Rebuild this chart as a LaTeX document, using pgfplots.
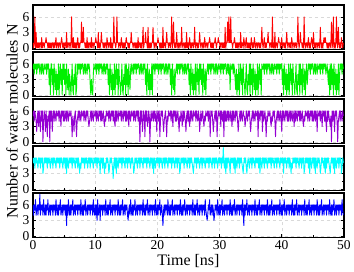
\documentclass[border=0pt]{standalone}
\usepackage{fontspec}
\setmainfont{Liberation Serif}
\usepackage{pgfplots}
\usepackage{pgfplotstable}
\pgfplotsset{compat=1.18}
\usepgfplotslibrary{groupplots}
\definecolor{pred}{RGB}{255,0,0}
\definecolor{pgreen}{RGB}{0,240,0}
\definecolor{ppurple}{RGB}{148,0,211}
\definecolor{pcyan}{RGB}{0,255,255}
\definecolor{pblue}{RGB}{0,0,255}
\pgfplotstableread{
t r g p c b
0.0 1 5 5 6 6
0.1 0 6 6 5 4
0.2 1 4 4 6 6
0.3 6 6 6 4 5
0.4 0 5 5 6 7
0.5 3 6 4 5 4
0.6 0 4 2 6 5
0.7 1 6 5 5 6
0.8 0 5 6 4 4
0.9 1 6 3 6 6
1.0 0 6 6 5 5
1.1 1 4 4 6 8
1.2 1 5 2 4 4
1.3 0 6 6 6 6
1.4 2 4 4 5 5
1.5 0 6 6 6 6
1.6 1 5 0 3 4
1.7 1 4 4 4 7
1.8 0 6 6 6 5
1.9 1 5 5 5 4
2.0 1 5 2 6 6
2.1 2 6 6 5 4
2.2 1 4 4 6 6
2.3 1 6 1 4 5
2.4 0 5 5 6 7
2.5 1 6 4 5 4
2.6 0 2 6 6 5
2.7 1 5 0 5 6
2.8 0 0 6 4 4
2.9 1 6 4 6 6
3.0 0 6 6 5 5
3.1 1 2 2 6 6
3.2 1 5 5 4 4
3.3 0 0 6 6 6
3.4 1 6 4 5 5
3.5 0 3 6 6 6
3.6 1 1 5 5 4
3.7 2 5 4 4 7
3.8 0 0 6 6 5
3.9 1 4 5 5 4
4.0 1 1 5 6 6
4.1 0 6 6 5 4
4.2 1 0 4 6 6
4.3 1 4 6 4 5
4.4 0 6 5 6 7
4.5 1 2 3 5 4
4.6 2 5 6 6 5
4.7 1 0 5 5 6
4.8 0 6 6 4 4
4.9 1 3 4 6 6
5.0 0 6 6 5 5
5.1 1 2 4 6 6
5.2 1 5 5 4 4
5.3 0 0 6 6 6
5.4 3 6 4 3 2
5.5 0 3 6 6 6
5.6 1 1 5 5 4
5.7 1 5 4 4 7
5.8 0 0 6 6 5
5.9 1 4 5 5 4
6.0 1 2 5 6 6
6.1 0 0 6 5 4
6.2 6 3 4 6 6
6.3 1 6 1 4 5
6.4 0 1 5 6 7
6.5 2 0 4 5 4
6.6 0 4 2 6 5
6.7 1 2 5 5 6
6.8 0 6 6 4 4
6.9 1 0 4 6 6
7.0 0 1 1 5 5
7.1 1 6 4 6 6
7.2 2 4 5 4 4
7.3 0 6 6 6 6
7.4 1 5 4 5 5
7.5 0 6 6 3 6
7.6 1 4 5 5 4
7.7 1 6 4 4 7
7.8 5 5 6 6 5
7.9 1 6 5 5 4
8.0 1 6 5 6 6
8.1 4 4 6 5 4
8.2 1 5 4 6 6
8.3 1 6 6 4 5
8.4 0 4 5 6 7
8.5 1 6 4 5 4
8.6 0 5 6 6 5
8.7 2 4 5 5 6
8.8 0 6 6 4 4
8.9 1 5 4 6 6
9.0 0 6 3 5 5
9.1 1 5 4 6 6
9.2 1 2 5 4 4
9.3 0 0 6 6 6
9.4 2 3 4 5 5
9.5 0 1 6 6 6
9.6 1 0 5 5 4
9.7 1 4 4 4 7
9.8 0 6 6 6 5
9.9 1 5 5 5 4
10.0 1 5 5 6 6
10.1 2 6 6 5 4
10.2 1 4 4 6 6
10.3 1 6 6 4 3
10.4 0 5 5 6 7
10.5 3 6 4 5 4
10.6 0 4 6 6 5
10.7 1 6 5 5 6
10.8 0 5 6 3 3
10.9 1 6 4 6 6
11.0 3 6 6 5 5
11.1 1 4 4 6 6
11.2 1 5 5 4 4
11.3 0 6 6 6 6
11.4 1 4 4 5 5
11.5 0 6 3 3 6
11.6 1 5 5 5 4
11.7 1 4 4 4 7
11.8 0 6 6 6 5
11.9 2 5 5 5 4
12.0 1 6 5 6 6
12.1 0 2 6 5 4
12.2 1 5 4 3 6
12.3 1 0 6 4 5
12.4 0 6 5 6 7
12.5 2 3 4 5 4
12.6 0 1 6 6 5
12.7 1 5 5 5 6
12.8 0 0 6 4 4
12.9 1 4 4 2 6
13.0 6 1 6 5 5
13.1 1 6 4 6 6
13.2 1 0 3 4 4
13.3 0 4 6 6 6
13.4 1 6 4 3 5
13.5 6 2 6 6 6
13.6 1 5 5 5 4
13.7 1 0 4 4 7
13.8 0 6 6 6 5
13.9 1 3 5 5 4
14.0 1 2 5 6 6
14.1 0 0 6 5 4
14.2 2 3 4 6 6
14.3 1 6 6 4 5
14.4 0 1 5 6 7
14.5 1 0 4 5 4
14.6 0 4 6 6 5
14.7 1 2 5 5 6
14.8 0 6 6 4 4
14.9 1 0 4 6 6
15.0 2 6 6 5 5
15.1 1 2 4 6 6
15.2 1 5 5 4 4
15.3 0 0 6 6 3
15.4 1 6 3 5 5
15.5 0 3 6 6 6
15.6 1 1 5 5 4
15.7 1 5 4 4 7
15.8 3 6 6 6 5
15.9 1 4 5 5 4
16.0 1 5 5 6 6
16.1 0 6 6 5 4
16.2 1 4 4 3 6
16.3 1 6 6 4 5
16.4 0 5 5 6 7
16.5 1 6 4 5 4
16.6 0 4 6 6 5
16.7 1 6 5 5 6
16.8 0 5 6 4 4
16.9 2 6 4 6 6
17.0 0 6 6 5 5
17.1 1 4 4 6 6
17.2 1 5 0 4 4
17.3 0 6 6 6 6
17.4 1 4 4 5 5
17.5 0 6 6 6 6
17.6 1 5 2 5 4
17.7 4 4 4 4 7
17.8 0 6 6 6 5
17.9 1 5 5 5 4
18.0 1 6 1 6 6
18.1 3 2 6 5 4
18.2 1 5 4 6 6
18.3 1 0 6 4 5
18.4 0 6 3 6 7
18.5 4 3 4 5 4
18.6 0 1 6 6 5
18.7 1 5 5 5 6
18.8 0 0 0 4 4
18.9 1 4 4 6 6
19.0 0 1 6 5 5
19.1 1 6 4 6 6
19.2 1 0 5 4 4
19.3 4 6 6 6 6
19.4 1 5 4 3 5
19.5 0 6 6 6 6
19.6 1 4 5 5 4
19.7 1 6 4 4 7
19.8 0 5 6 6 5
19.9 1 6 2 5 4
20.0 1 5 5 6 6
20.1 2 6 6 5 4
20.2 1 4 4 6 6
20.3 1 6 6 4 5
20.4 0 5 1 6 7
20.5 1 6 4 5 4
20.6 0 4 6 6 5
20.7 1 6 5 5 6
20.8 0 5 6 4 4
20.9 4 6 4 6 2
21.0 0 6 2 5 5
21.1 1 4 4 6 6
21.2 1 5 5 4 4
21.3 0 6 6 6 6
21.4 1 4 4 5 5
21.5 3 6 1 6 6
21.6 1 5 5 5 4
21.7 1 4 4 4 7
21.8 0 6 6 6 5
21.9 1 5 5 5 4
22.0 1 6 5 6 6
22.1 0 2 6 5 4
22.2 1 5 4 6 6
22.3 6 0 6 4 5
22.4 0 6 5 6 7
22.5 1 3 3 5 4
22.6 5 1 6 6 5
22.7 1 5 5 5 6
22.8 0 0 6 4 4
22.9 1 4 4 6 6
23.0 0 5 6 5 5
23.1 3 6 4 6 6
23.2 1 4 5 4 4
23.3 0 6 6 6 6
23.4 1 5 4 5 5
23.5 0 6 2 6 6
23.6 1 4 5 3 4
23.7 1 6 4 4 7
23.8 0 5 6 6 5
23.9 4 6 5 5 4
24.0 1 6 3 6 6
24.1 0 4 6 5 4
24.2 1 5 4 6 6
24.3 1 6 6 4 5
24.4 0 4 5 6 7
24.5 1 6 4 5 4
24.6 0 5 2 6 5
24.7 3 4 5 5 6
24.8 0 6 6 4 4
24.9 1 5 4 6 6
25.0 0 6 6 5 5
25.1 1 2 4 6 6
25.2 2 5 3 4 4
25.3 0 0 6 6 6
25.4 1 6 4 5 5
25.5 0 3 6 6 6
25.6 1 1 5 5 4
25.7 1 5 4 4 7
25.8 0 0 6 3 5
25.9 1 4 5 5 4
26.0 4 1 5 6 6
26.1 0 6 6 5 4
26.2 1 0 4 6 6
26.3 1 4 6 4 5
26.4 0 6 5 6 7
26.5 1 2 4 5 4
26.6 0 5 6 6 5
26.7 1 0 5 5 6
26.8 3 6 2 4 4
26.9 1 3 4 6 6
27.0 0 6 6 5 5
27.1 1 2 4 6 6
27.2 1 5 5 4 4
27.3 0 0 6 6 6
27.4 1 6 4 5 5
27.5 0 3 3 6 6
27.6 2 1 5 5 4
27.7 1 5 4 4 7
27.8 0 0 6 6 5
27.9 1 4 5 5 4
28.0 1 5 5 6 3
28.1 0 6 6 5 4
28.2 1 4 4 6 6
28.3 1 6 6 4 5
28.4 2 5 5 6 7
28.5 1 6 1 5 4
28.6 0 4 6 6 5
28.7 1 6 5 5 6
28.8 0 5 6 4 4
28.9 1 6 4 6 6
29.0 0 6 2 5 5
29.1 1 4 4 6 3
29.2 1 5 5 4 4
29.3 2 6 6 6 6
29.4 1 4 4 5 5
29.5 0 6 6 6 6
29.6 1 5 1 5 4
29.7 1 4 4 4 7
29.8 2 6 6 6 5
29.9 1 5 5 5 4
30.0 1 5 5 6 6
30.1 0 6 6 5 4
30.2 1 4 3 6 6
30.3 1 6 6 4 5
30.4 0 5 5 6 7
30.5 1 6 4 5 4
30.6 0 4 6 8 5
30.7 1 6 1 5 6
30.8 0 5 6 4 4
30.9 4 6 4 6 6
31.0 0 6 6 3 5
31.1 1 4 4 6 6
31.2 1 5 5 4 4
31.3 5 6 6 6 6
31.4 1 4 4 5 5
31.5 6 6 6 6 6
31.6 1 5 5 5 4
31.7 1 1 4 3 7
31.8 6 6 6 6 5
31.9 1 5 5 5 4
32.0 1 5 3 6 6
32.1 0 6 6 5 4
32.2 1 4 4 6 6
32.3 1 6 6 4 5
32.4 2 5 5 6 7
32.5 1 3 4 3 4
32.6 0 1 6 6 5
32.7 1 5 5 5 6
32.8 0 0 6 4 4
32.9 1 4 4 6 6
33.0 0 1 2 5 5
33.1 1 6 4 6 6
33.2 1 0 5 4 4
33.3 0 4 6 6 6
33.4 3 6 4 5 5
33.5 0 2 6 6 6
33.6 1 5 5 5 4
33.7 1 0 4 4 7
33.8 0 6 6 3 5
33.9 2 3 5 5 2
34.0 1 2 5 6 6
34.1 0 0 3 5 4
34.2 1 3 4 6 6
34.3 2 6 6 4 5
34.4 0 1 5 3 7
34.5 1 0 4 5 4
34.6 0 4 6 6 5
34.7 1 2 5 5 6
34.8 0 6 6 4 4
34.9 1 0 4 6 6
35.0 0 6 2 5 5
35.1 2 2 4 6 6
35.2 1 5 5 4 4
35.3 0 0 6 6 6
35.4 1 6 4 5 5
35.5 0 3 6 6 6
35.6 2 1 5 5 4
35.7 1 5 4 4 7
35.8 0 0 6 6 5
35.9 1 4 5 5 4
36.0 1 1 5 6 6
36.1 0 6 6 5 4
36.2 1 0 1 6 6
36.3 1 4 6 4 5
36.4 0 6 5 6 7
36.5 1 2 4 3 4
36.6 0 5 6 6 5
36.7 1 0 5 5 6
36.8 4 6 6 4 4
36.9 1 5 2 6 6
37.0 0 5 6 5 5
37.1 1 6 4 6 6
37.2 2 4 5 4 4
37.3 0 6 6 6 6
37.4 1 5 4 5 5
37.5 0 6 1 6 6
37.6 1 4 5 5 4
37.7 1 6 4 4 7
37.8 3 5 6 6 5
37.9 1 6 5 5 4
38.0 1 6 5 6 6
38.1 0 4 6 5 4
38.2 1 5 4 6 6
38.3 1 6 3 4 5
38.4 0 4 5 6 7
38.5 6 6 4 5 4
38.6 0 5 6 6 5
38.7 1 4 5 5 6
38.8 0 6 6 4 4
38.9 3 5 4 6 6
39.0 0 5 1 5 5
39.1 1 6 4 6 6
39.2 1 4 5 4 4
39.3 0 6 6 6 6
39.4 1 5 4 5 5
39.5 2 6 6 6 6
39.6 1 4 5 5 4
39.7 1 6 4 4 7
39.8 0 5 6 6 5
39.9 1 6 5 5 4
40.0 2 6 2 6 6
40.1 0 2 6 5 4
40.2 1 5 4 6 6
40.3 1 0 6 3 5
40.4 0 6 5 6 7
40.5 1 3 4 5 4
40.6 0 1 6 6 5
40.7 1 5 5 5 6
40.8 3 0 6 4 4
40.9 1 4 4 6 6
41.0 0 1 6 5 5
41.1 1 6 4 6 6
41.2 1 0 5 4 4
41.3 0 4 6 6 6
41.4 1 6 4 5 5
41.5 0 2 6 3 6
41.6 2 5 5 5 4
41.7 1 0 4 4 7
41.8 0 6 6 6 5
41.9 1 3 5 5 4
42.0 1 2 3 6 6
42.1 0 0 6 5 4
42.2 1 3 4 6 6
42.3 1 6 6 4 5
42.4 0 1 5 6 7
42.5 1 0 4 5 4
42.6 6 4 6 6 5
42.7 1 2 5 5 6
42.8 0 6 6 4 4
42.9 1 0 4 6 6
43.0 3 6 6 5 5
43.1 1 2 4 6 6
43.2 1 5 5 4 4
43.3 0 0 6 6 6
43.4 1 6 4 5 5
43.5 0 3 3 6 6
43.6 6 1 5 3 4
43.7 1 5 4 4 7
43.8 0 0 6 6 5
43.9 1 4 5 5 4
44.0 1 6 5 6 6
44.1 0 2 6 5 4
44.2 1 4 4 6 6
44.3 2 6 6 4 5
44.4 0 5 5 6 7
44.5 1 6 4 3 4
44.6 0 4 6 6 5
44.7 1 6 5 5 6
44.8 2 5 6 4 4
44.9 1 6 4 6 6
45.0 0 6 6 5 5
45.1 3 4 4 6 6
45.2 1 5 5 4 4
45.3 0 6 6 6 6
45.4 1 4 4 3 5
45.5 0 6 6 6 6
45.6 1 5 5 5 4
45.7 1 4 2 4 7
45.8 0 6 6 6 5
45.9 1 5 5 5 4
46.0 1 5 5 6 6
46.1 0 6 6 5 4
46.2 4 4 4 3 6
46.3 1 6 6 4 5
46.4 0 5 5 6 7
46.5 1 6 3 5 4
46.6 0 4 6 6 5
46.7 1 6 5 5 6
46.8 2 5 6 4 4
46.9 1 6 4 6 6
47.0 2 6 6 3 5
47.1 1 4 4 6 6
47.2 1 5 2 4 4
47.3 0 6 6 6 6
47.4 1 4 4 5 5
47.5 0 2 6 6 6
47.6 1 5 5 5 4
47.7 1 0 4 4 7
47.8 0 6 3 3 5
47.9 1 1 5 5 4
48.0 5 6 0 6 6
48.1 0 2 6 5 4
48.2 1 5 4 6 6
48.3 6 0 6 4 5
48.4 0 6 5 6 7
48.5 1 3 2 3 4
48.6 0 1 6 6 5
48.7 1 5 5 5 6
48.8 6 0 6 4 4
48.9 1 4 4 6 6
49.0 0 1 0 5 5
49.1 4 6 4 6 6
49.2 1 0 5 4 4
49.3 0 4 6 6 6
49.4 1 6 4 5 5
49.5 0 5 6 6 6
49.6 2 6 5 3 4
49.7 1 4 4 4 7
49.8 0 6 6 6 5
49.9 1 5 5 5 4
}\wat
\begin{document}
\begin{tikzpicture}
\begin{groupplot}[
  group style={group size=1 by 5, vertical sep=2.5pt, xticklabels at=edge bottom, group name=G},
  scale only axis, width=311pt, height=44.5pt,
  xmin=0, xmax=50, ymin=-0.3, ymax=8.3,
  xtick={0,10,...,50}, ytick={0,3,6},
  minor x tick num=1, minor y tick num=1,
  grid=major, major grid style={dashed, gray!30, line width=0.3pt},
  axis line style={line width=1.3pt},
  tick align=inside, tick style={black, line width=0.5pt},
  major tick length=3pt, minor tick length=2pt,
  ticklabel style={font=\fontsize{13.5}{15}\selectfont},
  /pgf/number format/assume math mode=true,
  every axis plot/.append style={sharp plot, no markers, line width=0.9pt, line join=round},
]
\nextgroupplot
\addplot[pred] table[x=t,y=r]{\wat};
\nextgroupplot
\addplot[pgreen] table[x=t,y=g]{\wat};
\nextgroupplot
\addplot[ppurple] table[x=t,y=p]{\wat};
\nextgroupplot
\addplot[pcyan] table[x=t,y=c]{\wat};
\nextgroupplot[xlabel={Time [ns]}, xlabel style={font=\fontsize{16}{19}\selectfont, yshift=3pt}]
\addplot[pblue] table[x=t,y=b]{\wat};
\end{groupplot}
\node[rotate=90, font=\fontsize{16}{19}\selectfont] at ([xshift=-21pt]G c1r3.west) {Number of water molecules N};
\path ([xshift=-33pt,yshift=5pt]G c1r1.north west) rectangle ([xshift=10pt,yshift=-34pt]G c1r5.south east);
\end{tikzpicture}
\end{document}
